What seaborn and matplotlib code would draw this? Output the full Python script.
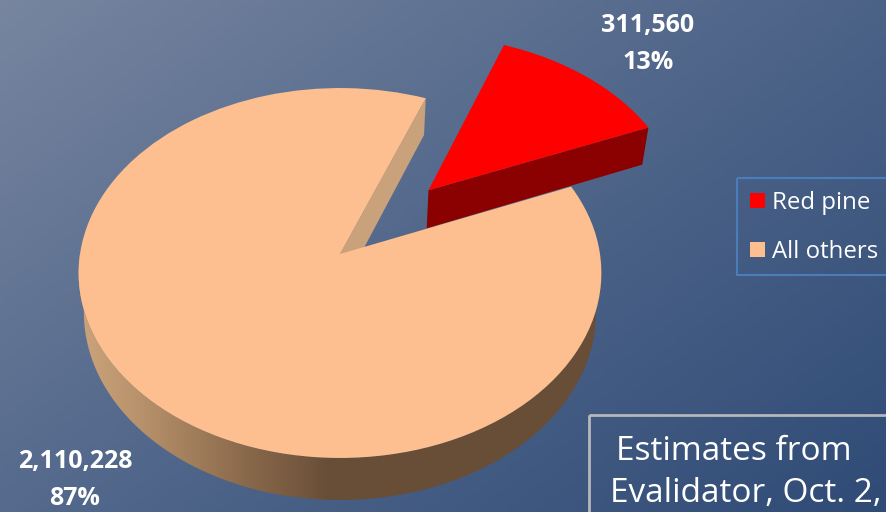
import numpy as np
import seaborn as sns
import matplotlib.pyplot as plt
from matplotlib.colors import LinearSegmentedColormap
from matplotlib.patches import Patch, Polygon, Rectangle
from matplotlib.transforms import Transform

# values
categories = ["Red pine", "All others"]
acres = [311560, 2110228]
percent_labels = ["13%", "87%"]
explode = [0.505, 0]
note_lines = ["Estimates from", "Evalidator, Oct. 2,"]

pie_colors = ["#ff0000", "#fdbf8f"]
red_side = "#8b0000"
cut_side = "#c9a27c"

W, H = 886, 512


# pie disc -> picture pixels, with a bit of perspective for the fake 3d look
class Persp(Transform):
    input_dims = 2
    output_dims = 2
    is_separable = False

    def __init__(self, lower=False):
        super().__init__()
        self.lower = lower

    def transform_non_affine(self, values):
        values = np.asarray(values, dtype=float)
        w = 1 + 0.1027 * values[:, 1]
        sx = 0.98 if self.lower else 1.0
        sy = 1.015 if self.lower else 1.0
        y0 = 293 if self.lower else 254
        return np.column_stack([340 + sx * 260 * values[:, 0] / w,
                                y0 - sy * 183 * values[:, 1] / w])


def rim(center, angles, lower=False):
    a = np.radians(angles)
    xy = np.column_stack([center[0] + np.cos(a), center[1] + np.sin(a)])
    return Persp(lower).transform(xy)


def radial_face(center, angle):
    top = Persp().transform(np.array([center]))
    low = Persp(True).transform(np.array([center]))
    return np.vstack([top, rim(center, [angle]), rim(center, [angle], True), low])


sns.set_style("white")
plt.rcParams["font.family"] = ["Open Sans", "DejaVu Sans"]
palette = sns.color_palette(pie_colors)

fig = plt.figure(figsize=(W / 100, H / 100), dpi=100)
ax = fig.add_axes([0, 0, 1, 1])

# background gradient
gx, gy = np.meshgrid(np.linspace(0, W, 240), np.linspace(0, H, 140))
bg_cmap = LinearSegmentedColormap.from_list(
    "bg", [(0, "#77859f"), (0.5, "#50668a"), (1, "#2f4b76")])
ax.imshow((gx * 0.75 + gy) / (W * 0.75 + H), cmap=bg_cmap, vmin=0, vmax=1,
          extent=[0, W, H, 0], aspect="auto", zorder=0)

start = 22.5
wedges, _ = ax.pie(acres, colors=palette, explode=explode, startangle=start,
                   radius=1, wedgeprops={"linewidth": 0})
ax.set_aspect("auto")
for wedge, z in zip(wedges, [4, 5]):
    wedge.set_transform(Persp() + ax.transData)
    wedge.set_zorder(z)

red, others = wedges

# side of the big slice, shaded left to right
arc = np.linspace(180, 360, 200)
band = np.vstack([rim(others.center, arc), rim(others.center, arc, True)[::-1]])
side_cmap = LinearSegmentedColormap.from_list(
    "side", [(0, "#cda57c"), (0.12, "#b8926c"), (0.3, "#8f6d4e"),
             (0.48, "#684e37"), (1, "#684e37")])
side = ax.imshow(np.linspace(0, 1, 256).reshape(1, -1), cmap=side_cmap,
                 extent=[75, 605, 510, 250], aspect="auto", zorder=1)
side.set_clip_path(Polygon(band, closed=True, transform=ax.transData))

# the two cut faces that can be seen
ax.add_patch(Polygon(radial_face(others.center, others.theta1), closed=True,
                     facecolor=cut_side, linewidth=0, zorder=2))
ax.add_patch(Polygon(radial_face(red.center, red.theta1), closed=True,
                     facecolor=red_side, linewidth=0, zorder=3))

# value labels
ax.text(648, 44, f"{acres[0]:,}\n{percent_labels[0]}", color="white", fontsize=18,
        fontweight="bold", ha="center", va="center", linespacing=1.68, zorder=6)
ax.text(75, 480, f"{acres[1]:,}\n{percent_labels[1]}", color="white", fontsize=18,
        fontweight="bold", ha="center", va="center", linespacing=1.68, zorder=6)

# legend frame runs off the right edge
ax.add_patch(Rectangle((737, 178), 170, 97, fill=False, edgecolor="#4a7ebb",
                       linewidth=1.5, zorder=6))
handles = [Patch(facecolor=c, linewidth=0) for c in palette]
ax.legend(handles, categories, loc="upper left", frameon=False, fontsize=17.3,
          labelcolor="white", handlelength=0.63, handleheight=0.63,
          handletextpad=0.3, labelspacing=1.04, borderpad=0, borderaxespad=0,
          bbox_to_anchor=(750 / W, 1 - 191 / H))

# note box, cut off by the picture edge
ax.add_patch(Rectangle((589, 415), 320, 120, fill=False, edgecolor="#b5b7bb",
                       linewidth=2, zorder=6))
ax.text(616, 451, note_lines[0], color="white", fontsize=24, va="center", zorder=6)
ax.text(610, 493, note_lines[1], color="white", fontsize=24, va="center", zorder=6)

ax.set_xlim(0, W)
ax.set_ylim(H, 0)
sns.despine(ax=ax, left=True, bottom=True)
fig.savefig("out.png", dpi=100)
